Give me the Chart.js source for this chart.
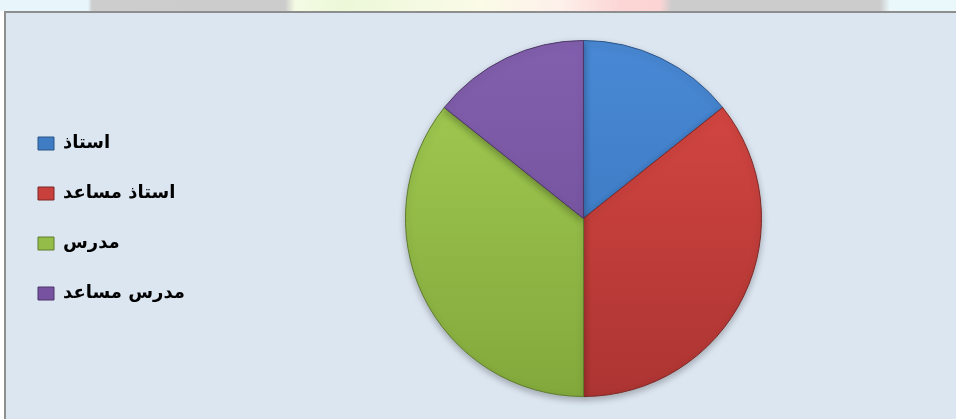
<!DOCTYPE html>
<html>
<head>
<meta charset="utf-8">
<script src="https://cdn.jsdelivr.net/npm/chart.js@4"></script>
<style>
  html, body { margin: 0; padding: 0; width: 956px; height: 419px; overflow: hidden; background: #ffffff; }
  #strip {
    position: absolute; left: 0; top: 0; width: 956px; height: 11px;
    background: linear-gradient(to right, #e8f6fb 0px, #e8f6fb 88px, #cdcdcd 92px, #cccccc 285px,
      #f4fbe4 295px, #ecf8d8 340px, #fbfbe8 480px, #fdf0ea 560px, #fcd6d6 620px, #fcd4d4 660px,
      #cccccc 672px, #cccccc 880px, #eaf7fb 890px, #eaf7fb 956px);
  }
  #frame {
    position: absolute; left: 4px; top: 11px; width: 952px; height: 408px;
    background: #dce6f1; border-left: 2px solid #8e8e8e; border-top: 2px solid #8e8e8e;
    box-sizing: border-box;
  }
  #frame canvas { display: block; }
</style>
</head>
<body>
<div id="strip"></div>
<div id="frame"><canvas id="pieChart" width="950" height="406"></canvas></div>
<script>
// values (slice angles ~51°, 129°, 127°, 53°)
const labels = ['استاذ', 'استاذ مساعد', 'مدرس', 'مدرس مساعد'];
const counts = [2, 5, 5, 2];

const topColors = ['#4a8ad6', '#dd4a45', '#a6d055', '#8461b0'];
const bottomColors = ['#3570b8', '#a93331', '#80a63a', '#6a4a92'];
const edgeColors = ['#2b5587', '#7e2725', '#5f7b2c', '#4d3668'];
const legendColors = ['#3f7cc4', '#c8403c', '#94bc48', '#7652a0'];

function sliceFill(ctx) {
    const chart = ctx.chart;
    const area = chart.chartArea;
    if (!area) return topColors[ctx.dataIndex];
    const g = chart.ctx.createLinearGradient(0, area.top, 0, area.bottom);
    g.addColorStop(0, topColors[ctx.dataIndex]);
    g.addColorStop(1, bottomColors[ctx.dataIndex]);
    return g;
}

// soft drop shadow under the pie
const pieShadow = {
    id: 'pieShadow',
    beforeDatasetsDraw(chart) {
        const c = chart.ctx;
        c.save();
        c.shadowColor = 'rgba(0, 0, 0, 0.28)';
        c.shadowBlur = 7;
        c.shadowOffsetY = 3;
    },
    afterDatasetsDraw(chart) {
        chart.ctx.restore();
    }
};

// widen the legend column a bit so the pie sits where it does in the original
const legendWidth = {
    id: 'legendWidth',
    afterInit(chart) {
        const legend = chart.legend;
        if (!legend) return;
        const fit = legend.fit;
        legend.fit = function() {
            fit.call(this);
            this.width += 16;
        };
    }
};

Chart.defaults.font.family = '"DejaVu Sans", "Liberation Sans", Arial, sans-serif';

new Chart(document.getElementById('pieChart'), {
    type: 'pie',
    data: {
        labels: labels,
        datasets: [{
            data: counts,
            backgroundColor: sliceFill,
            borderColor: edgeColors,
            borderWidth: 1
        }]
    },
    options: {
        responsive: false,
        animation: false,
        radius: 178,
        layout: { padding: { top: 5, bottom: 0, left: 0, right: 0 } },
        plugins: {
            tooltip: { enabled: false },
            legend: {
                position: 'left',
                align: 'center',
                labels: {
                    color: '#000000',
                    font: { size: 18, weight: 'bold' },
                    boxWidth: 16,
                    boxHeight: 13,
                    padding: 32,
                    generateLabels: function(chart) {
                        return labels.map((text, i) => ({
                            text: text,
                            fillStyle: legendColors[i],
                            strokeStyle: edgeColors[i],
                            lineWidth: 1,
                            hidden: false,
                            index: i
                        }));
                    }
                }
            }
        }
    },
    plugins: [pieShadow, legendWidth]
});
</script>
</body>
</html>
